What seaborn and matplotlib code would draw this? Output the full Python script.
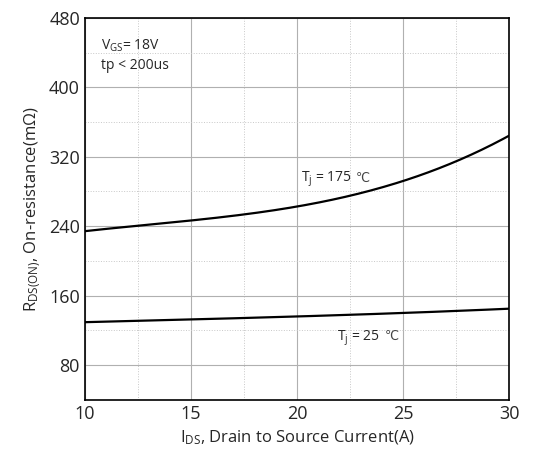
import numpy as np
import pandas as pd
import matplotlib
matplotlib.use("Agg")
import matplotlib.pyplot as plt
import seaborn as sns
from matplotlib.ticker import MultipleLocator

# valores
current = [10, 12.5, 15, 17.5, 20, 22.5, 25, 27.5, 30]
r_175 = [235, 239.5, 246, 254, 263.5, 276, 291, 314, 345]
r_25 = [129.5, 131, 132.5, 134.5, 136, 138, 140, 142.5, 145]

sns.set_style("white")
plt.rcParams["font.family"] = ["Open Sans", "DejaVu Sans"]
plt.rcParams["mathtext.fontset"] = "custom"
plt.rcParams["mathtext.rm"] = "Open Sans"
plt.rcParams["mathtext.it"] = "Open Sans"

df = pd.concat([
    pd.DataFrame({"I": current, "R": r_175, "Tj": "175"}),
    pd.DataFrame({"I": current, "R": r_25, "Tj": "25"}),
])

fig = plt.figure(figsize=(5.4, 4.57), dpi=100)
ax = fig.add_axes([0.157, 0.125, 0.786, 0.836])

# curva suave a partir de los puntos leidos
for tj, grp in df.groupby("Tj"):
    xs = np.linspace(10, 30, 200)
    coef = np.polyfit(grp["I"], grp["R"], 3)
    smooth = pd.DataFrame({"I": xs, "R": np.polyval(coef, xs)})
    sns.lineplot(data=smooth, x="I", y="R", color="black", lw=1.6,
                 ax=ax, legend=False)

ax.set_xlim(10, 30)
ax.set_ylim(40, 480)
ax.xaxis.set_major_locator(MultipleLocator(5))
ax.xaxis.set_minor_locator(MultipleLocator(2.5))
ax.yaxis.set_major_locator(MultipleLocator(80))
ax.yaxis.set_minor_locator(MultipleLocator(40))
ax.set_yticks([80, 160, 240, 320, 400, 480])

ax.grid(which="major", color="#b0b0b0", lw=0.8, ls="-")
ax.grid(which="minor", color="#c8c8c8", lw=0.7, ls=":")
ax.set_axisbelow(True)
ax.tick_params(which="both", direction="in", top=False, right=False,
               labelsize=13, color="black")
ax.tick_params(which="major", length=5, width=1)
ax.tick_params(which="minor", length=3, width=1)
for s in ax.spines.values():
    s.set_color("black")
    s.set_linewidth(1.2)

ax.set_xlabel("I$_{DS}$, Drain to Source Current(A)", fontsize=12)
ax.set_ylabel("R$_{DS(ON)}$, On-resistance(m\u03a9)", fontsize=12)

ax.text(10.75, 448, "V$_{GS}$= 18V", fontsize=10, va="center")
ax.text(10.75, 425, "tp < 200us", fontsize=10, va="center")

t1 = ax.text(20.2, 294, "T$_{j}$ = 175", fontsize=10, va="center")
ax.annotate("\u2103", xy=(1, 0.5), xycoords=t1, xytext=(3, 1),
            textcoords="offset points", va="center", ha="left",
            fontsize=9, family="DejaVu Sans", color="#444444")
t2 = ax.text(21.9, 111, "T$_{j}$ = 25", fontsize=10, va="center")
ax.annotate("\u2103", xy=(1, 0.5), xycoords=t2, xytext=(3, 1),
            textcoords="offset points", va="center", ha="left",
            fontsize=9, family="DejaVu Sans", color="#444444")

fig.savefig("out.png", dpi=100)
